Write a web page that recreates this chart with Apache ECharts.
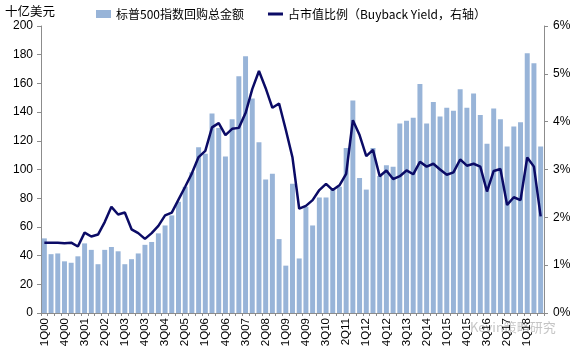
<!DOCTYPE html>
<html>
<head>
<meta charset="utf-8">
<script src="https://cdn.jsdelivr.net/npm/echarts@6/dist/echarts.min.js"></script>
<style>
  html, body { margin: 0; padding: 0; background: #fff; }
  #chart { width: 576px; height: 353px; }
</style>
</head>
<body>
<div id="chart"></div>
<script>
const quarters = [
  '1Q00', '2Q00', '3Q00', '4Q00', '1Q01', '2Q01', '3Q01', '4Q01',
  '1Q02', '2Q02', '3Q02', '4Q02', '1Q03', '2Q03', '3Q03', '4Q03',
  '1Q04', '2Q04', '3Q04', '4Q04', '1Q05', '2Q05', '3Q05', '4Q05',
  '1Q06', '2Q06', '3Q06', '4Q06', '1Q07', '2Q07', '3Q07', '4Q07',
  '1Q08', '2Q08', '3Q08', '4Q08', '1Q09', '2Q09', '3Q09', '4Q09',
  '1Q10', '2Q10', '3Q10', '4Q10', '1Q11', '2Q11', '3Q11', '4Q11',
  '1Q12', '2Q12', '3Q12', '4Q12', '1Q13', '2Q13', '3Q13', '4Q13',
  '1Q14', '2Q14', '3Q14', '4Q14', '1Q15', '2Q15', '3Q15', '4Q15',
  '1Q16', '2Q16', '3Q16', '4Q16', '1Q17', '2Q17', '3Q17', '4Q17',
  '1Q18', '2Q18', '3Q18'
];

// 标普500回购总金额（十亿美元）
const buybackAmount = [
  52, 41, 41.5, 36, 35, 39.5, 48.5, 44,
  34, 44, 46, 43, 34, 37.5, 41.5, 47.5,
  49.5, 55.5, 61, 68, 77.5, 88, 98, 115.5,
  111, 139, 129, 109, 135, 165, 179, 149.5,
  119, 93, 97, 51.5, 33, 90, 38, 74,
  61, 80.5, 80.5, 86, 88, 115, 148, 94,
  86, 115, 95.5, 103, 102, 132, 134, 136,
  159.5, 132, 147, 137, 143, 141, 156, 143,
  153, 138, 118, 142.5, 135, 116, 130, 133,
  181, 174, 116
];

// 占市值比例（%）
const buybackYield = [
  1.47, 1.47, 1.47, 1.46, 1.47, 1.39, 1.68, 1.6,
  1.64, 1.9, 2.22, 2.06, 2.1, 1.75, 1.67, 1.55,
  1.67, 1.82, 2.04, 2.1, 2.37, 2.64, 2.92, 3.26,
  3.39, 3.88, 3.97, 3.72, 3.85, 3.87, 4.18, 4.68,
  5.06, 4.7, 4.29, 4.38, 3.83, 3.25, 2.18, 2.24,
  2.36, 2.57, 2.7, 2.57, 2.67, 2.91, 4.03, 3.72,
  3.28, 3.41, 2.86, 2.98, 2.8, 2.86, 2.98, 2.9,
  3.16, 3.06, 3.12, 3.0, 2.89, 2.94, 3.21, 3.08,
  3.12, 3.06, 2.54, 2.97, 3.01, 2.26, 2.42, 2.36,
  3.25, 3.06, 2.02
];

const barName = '标普500指数回购总金额';
const lineName = '占市值比例（Buyback Yield，右轴）';

const numFont = '"Liberation Sans", Arial, sans-serif';
const cjkFont = '"Noto Sans CJK SC", "Liberation Sans", sans-serif';
const axisGray = '#8c8c8c';
// thin bar in the middle of a 15x8 box, for the line's legend entry
const lineIcon = 'path://M0,0L0.01,0M0,2.6L15,2.6L15,5.4L0,5.4ZM0,8L0.01,8';

const chart = echarts.init(document.getElementById('chart'));
chart.setOption({
  backgroundColor: '#ffffff',
  animation: false,
  grid: { left: 41, right: 32, top: 26, bottom: 40 },
  legend: {
    left: 91,
    top: 3,
    itemWidth: 15,
    itemHeight: 8,
    itemGap: 24,
    textStyle: { color: '#000', fontSize: 12, fontFamily: cjkFont },
    data: [
      { name: barName, icon: 'rect' },
      { name: lineName, icon: lineIcon, itemStyle: { color: '#0b0b66', borderWidth: 0 } }
    ]
  },
  graphic: [
    {
      type: 'text',
      left: 5,
      top: 5,
      style: { text: '十亿美元', fill: '#000', font: '12.5px ' + cjkFont }
    },
    {
      type: 'text',
      left: 470,
      top: 321,
      style: { text: 'Kevin策略研究', fill: 'rgba(150,150,150,0.55)', font: '13px ' + cjkFont }
    }
  ],
  xAxis: {
    type: 'category',
    data: quarters,
    axisLine: { lineStyle: { color: axisGray } },
    axisTick: { show: true, interval: 0, length: 3, lineStyle: { color: axisGray } },
    axisLabel: {
      interval: 2,
      rotate: 90,
      margin: 5,
      color: '#000',
      fontSize: 11.5,
      fontFamily: numFont
    }
  },
  yAxis: [
    {
      type: 'value',
      min: 0,
      max: 200,
      interval: 20,
      splitLine: { show: false },
      axisLine: { show: true, lineStyle: { color: axisGray } },
      axisTick: { show: true, length: 4, lineStyle: { color: axisGray } },
      axisLabel: { color: '#000', fontSize: 12, fontFamily: numFont, margin: 8 }
    },
    {
      type: 'value',
      min: 0,
      max: 6,
      interval: 1,
      splitLine: { show: false },
      axisLine: { show: true, lineStyle: { color: axisGray } },
      axisTick: { show: true, length: 4, lineStyle: { color: axisGray } },
      axisLabel: { color: '#000', fontSize: 12, fontFamily: numFont, margin: 9, formatter: '{value}%' }
    }
  ],
  series: [
    {
      name: barName,
      type: 'bar',
      data: buybackAmount,
      barCategoryGap: '26%',
      itemStyle: { color: '#98b4d8' }
    },
    {
      name: lineName,
      type: 'line',
      yAxisIndex: 1,
      data: buybackYield,
      symbol: 'none',
      lineStyle: { color: '#0b0b66', width: 2.5 },
      itemStyle: { color: '#0b0b66' }
    }
  ]
});
</script>
</body>
</html>
